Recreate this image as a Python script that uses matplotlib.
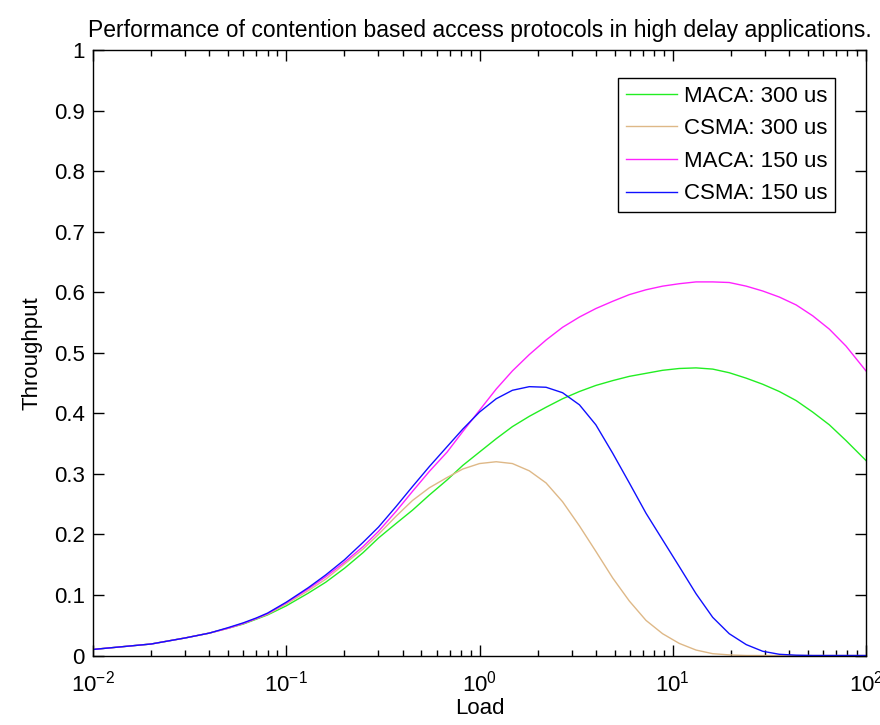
import matplotlib
matplotlib.use('Agg')
import matplotlib.pyplot as plt
from matplotlib.ticker import LogLocator, NullFormatter

plt.rcParams['font.family'] = ['Liberation Sans', 'DejaVu Sans']
plt.rcParams['mathtext.default'] = 'regular'

# Load values (offered traffic), shared by all curves
load = [0.01, 0.02, 0.03, 0.04, 0.05, 0.06, 0.07, 0.08, 0.1, 0.13, 0.16, 0.2,
        0.25, 0.3, 0.37, 0.45, 0.55, 0.68, 0.82, 1.0, 1.22, 1.48, 1.81, 2.21,
        2.69, 3.29, 4.0, 4.89, 5.96, 7.27, 8.86, 10.8, 13.2, 16.1, 19.6, 24,
        29.2, 35.6, 43.5, 53, 64.6, 78.8, 100]

maca_300 = [0.010, 0.019, 0.029, 0.037, 0.045, 0.052, 0.060, 0.067, 0.082, 0.103,
            0.121, 0.144, 0.170, 0.194, 0.218, 0.240, 0.265, 0.290, 0.314, 0.336,
            0.358, 0.378, 0.395, 0.410, 0.424, 0.436, 0.446, 0.454, 0.461, 0.466,
            0.471, 0.474, 0.475, 0.473, 0.467, 0.458, 0.448, 0.436, 0.421, 0.402,
            0.381, 0.355, 0.322]

csma_300 = [0.010, 0.019, 0.029, 0.037, 0.045, 0.053, 0.061, 0.068, 0.085, 0.107,
            0.126, 0.151, 0.176, 0.200, 0.230, 0.256, 0.277, 0.294, 0.308, 0.317,
            0.320, 0.317, 0.305, 0.285, 0.254, 0.214, 0.172, 0.128, 0.090, 0.058,
            0.036, 0.020, 0.009, 0.003, 0.001, 0.0, 0.0, 0.0, 0.0, 0.0,
            0.0, 0.0, 0.0]

maca_150 = [0.010, 0.019, 0.029, 0.037, 0.045, 0.053, 0.061, 0.069, 0.087, 0.110,
            0.130, 0.154, 0.180, 0.205, 0.238, 0.271, 0.304, 0.336, 0.370, 0.405,
            0.440, 0.470, 0.497, 0.521, 0.542, 0.559, 0.573, 0.585, 0.596, 0.604,
            0.610, 0.614, 0.617, 0.617, 0.616, 0.610, 0.602, 0.592, 0.579, 0.561,
            0.539, 0.511, 0.470]

csma_150 = [0.010, 0.019, 0.029, 0.037, 0.046, 0.054, 0.062, 0.070, 0.088, 0.112,
            0.133, 0.158, 0.187, 0.212, 0.246, 0.279, 0.312, 0.345, 0.374, 0.402,
            0.424, 0.438, 0.444, 0.443, 0.434, 0.414, 0.381, 0.334, 0.285, 0.235,
            0.191, 0.147, 0.102, 0.063, 0.036, 0.018, 0.007, 0.002, 0.0005, 0.0,
            0.0, 0.0, 0.0]

fig = plt.figure(figsize=(8.8, 7.25), dpi=100)
ax = fig.add_axes([93/880, 1 - 655.5/725, (866 - 93)/880, (655.5 - 50)/725])

ax.plot(load, maca_300, color='#22ee22', lw=1.0, label='MACA: 300 us')
ax.plot(load, csma_300, color='#deb887', lw=1.0, label='CSMA: 300 us')
ax.plot(load, maca_150, color='#ff22ff', lw=1.0, label='MACA: 150 us')
ax.plot(load, csma_150, color='#1010ff', lw=1.0, label='CSMA: 150 us')

ax.set_xscale('log')
ax.set_xlim(0.01, 100)
ax.set_ylim(0, 1)
ax.set_yticks([i / 10 for i in range(11)])
ax.set_yticklabels(['0', '0.1', '0.2', '0.3', '0.4', '0.5', '0.6', '0.7', '0.8', '0.9', '1'])
ax.xaxis.set_minor_locator(LogLocator(base=10, subs=range(2, 10)))
ax.xaxis.set_minor_formatter(NullFormatter())

ax.tick_params(which='both', direction='in', top=True, right=True, labelsize=16, width=1)
ax.tick_params(which='major', length=8)
ax.tick_params(axis='y', which='major', pad=6)
ax.tick_params(axis='x', which='major', pad=11)
ax.tick_params(which='minor', length=4)
for s in ax.spines.values():
    s.set_linewidth(1.0)

ax.set_xlabel('Load', fontsize=16, labelpad=1)
ax.set_ylabel('Throughput', fontsize=16, labelpad=8)
ax.set_title('Performance of contention based access protocols in high delay applications.',
             fontsize=16.5, pad=9)

leg = ax.legend(loc='upper right', bbox_to_anchor=(0.96, 0.954), fontsize=16,
                frameon=True, fancybox=False, framealpha=1, edgecolor='black',
                handlelength=2.3, labelspacing=0.52, borderpad=0.35, handletextpad=0.3,
                borderaxespad=0)
leg.get_frame().set_linewidth(1.0)

fig.savefig('out.png', dpi=100)
